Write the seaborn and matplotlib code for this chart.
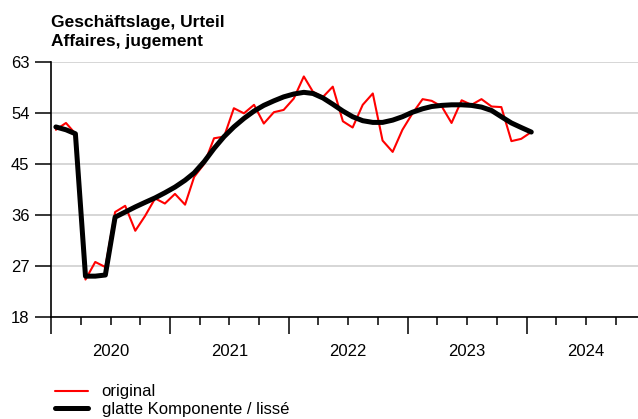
import matplotlib
matplotlib.use('Agg')
import matplotlib.pyplot as plt
import matplotlib.dates as mdates
import matplotlib.transforms as mtransforms
import numpy as np
import pandas as pd
import seaborn as sns

# monthly values, Jan 2020 .. Jan 2024
start_month = '2020-01-01'
original = [51.0, 52.2, 50.3, 24.6, 27.7, 26.8, 36.5, 37.6, 33.2, 35.8,
            38.9, 38.0, 39.7, 37.8, 42.7, 45.0, 49.5, 49.8, 54.8, 53.9,
            55.4, 52.1, 54.1, 54.5, 56.5, 60.4, 57.7, 56.8, 58.6, 52.5,
            51.4, 55.4, 57.4, 49.1, 47.1, 51.0, 53.9, 56.4, 56.1, 55.1,
            52.2, 56.2, 55.4, 56.4, 55.1, 55.0, 49.0, 49.4, 50.6]
smooth = [51.5, 51.0, 50.3, 25.2, 25.2, 25.4, 35.6, 36.5, 37.4, 38.2,
          39.0, 39.9, 40.9, 42.1, 43.4, 45.4, 47.7, 49.8, 51.5, 53.0,
          54.3, 55.3, 56.1, 56.8, 57.3, 57.6, 57.4, 56.6, 55.5, 54.3,
          53.3, 52.6, 52.3, 52.3, 52.7, 53.3, 54.1, 54.7, 55.1, 55.3,
          55.4, 55.4, 55.3, 55.0, 54.4, 53.3, 52.2, 51.4, 50.6]
year_labels = ['2020', '2021', '2022', '2023', '2024']
y_ticks = [18, 27, 36, 45, 54, 63]
series_names = ['original', 'glatte Komponente / lissé']
title = 'Geschäftslage, Urteil\nAffaires, jugement'

dates = pd.date_range(start_month, periods=len(original), freq='MS') + pd.Timedelta(days=14)
df = pd.DataFrame({'date': dates, 'original': original, 'smooth': smooth})

sns.set_style('white')
plt.rcParams['font.family'] = ['Liberation Sans', 'DejaVu Sans']
plt.rcParams['text.color'] = 'black'
plt.rcParams['xtick.color'] = 'black'
plt.rcParams['ytick.color'] = 'black'
plt.rcParams['axes.labelcolor'] = 'black'

fig, ax = plt.subplots(figsize=(6.38, 4.19), dpi=100)
fig.subplots_adjust(left=51 / 638, right=1.0, bottom=1 - 317 / 419, top=1 - 61.7 / 419)

ax.yaxis.grid(True, color='#cccccc', linewidth=1.1)
ax.set_axisbelow(True)

sns.lineplot(data=df, x='date', y='original', color='#ff0000', linewidth=1.5,
             ax=ax, label=series_names[0])
sns.lineplot(data=df, x='date', y='smooth', color='black', linewidth=3.6,
             ax=ax, label=series_names[1])

ax.set_ylim(18, 63)
ax.set_yticks(y_ticks)
ax.set_xlim(pd.Timestamp('2019-12-31'), pd.Timestamp('2024-12-08'))
ax.set_xlabel('')
ax.set_ylabel('')

ax.xaxis.set_major_locator(mdates.YearLocator())
ax.xaxis.set_minor_locator(mdates.MonthLocator(bymonth=[4, 7, 10]))
ax.xaxis.set_major_formatter(plt.NullFormatter())
ax.tick_params(axis='x', which='major', length=12, width=1.1, direction='out', bottom=True)
ax.tick_params(axis='x', which='minor', length=6, width=1.1, direction='out', bottom=True)
ax.tick_params(axis='y', length=11.5, width=1.1, direction='out', left=True,
               labelsize=12, pad=4, labelcolor='black')

for s in ['top', 'right']:
    ax.spines[s].set_visible(False)
for s in ['left', 'bottom']:
    ax.spines[s].set_color('black')
    ax.spines[s].set_linewidth(1.2)

trans = mtransforms.blended_transform_factory(ax.transData, ax.transAxes)
for lab in year_labels:
    ax.text(pd.Timestamp(f'{lab}-07-01'), -0.137, lab, transform=trans,
            ha='center', va='center', fontsize=12, color='black')

ax.set_title(title, loc='left', fontsize=12.5, fontweight='bold', pad=11,
             linespacing=1.4, color='black')

handles, labels = ax.get_legend_handles_labels()
ax.get_legend().remove()
fig.legend(handles, labels, loc='lower left', bbox_to_anchor=(55 / 638, 0.005),
           frameon=False, fontsize=12, handlelength=2.0, handletextpad=0.8,
           labelspacing=0.15, borderpad=0, borderaxespad=0, labelcolor='black')

plt.savefig('out.png', dpi=100)
